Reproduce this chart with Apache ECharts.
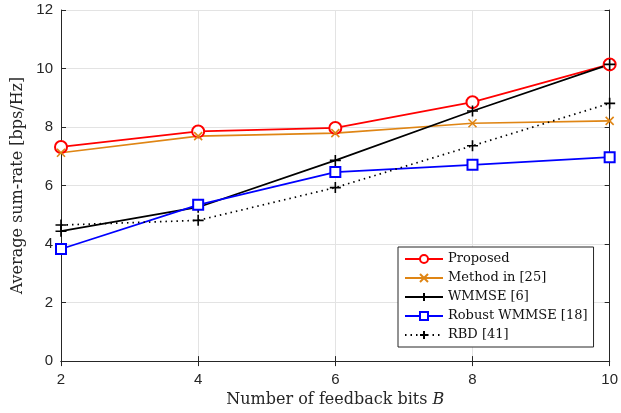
<!DOCTYPE html>
<html>
<head>
<meta charset="utf-8">
<script src="https://cdn.jsdelivr.net/npm/echarts@6/dist/echarts.min.js"></script>
<style>
  html, body { margin: 0; padding: 0; background: #fff; }
  #chart { width: 621px; height: 413px; }
</style>
</head>
<body>
<div id="chart"></div>
<script>
// Feedback bits on the x axis
const feedbackBits = [2, 4, 6, 8, 10];

// Average sum-rate [bps/Hz] per scheme
const proposed    = [7.32, 7.85, 7.97, 8.85, 10.14];
const method25    = [7.12, 7.69, 7.79, 8.13, 8.21];
const wmmse6      = [4.44, 5.26, 6.86, 8.55, 10.14];
const robust18    = [3.83, 5.34, 6.46, 6.71, 6.97];
const rbd41       = [4.65, 4.81, 5.93, 7.36, 8.81];

const seriesNames = ['Proposed', 'Method in [25]', 'WMMSE [6]', 'Robust WMMSE [18]', 'RBD [41]'];
const yTicks = [0, 2, 4, 6, 8, 10, 12];

const PLUS = 'path://M5,0L5,10M0,5L10,5';
const CROSS = 'path://M0,0L10,10M10,0L0,10';

const pair = arr => feedbackBits.map((b, i) => [b, arr[i]]);

function lineSeries(name, data, color, symbol, size, dashed) {
  return {
    name: name,
    type: 'line',
    data: pair(data),
    symbol: symbol,
    symbolSize: size,
    showAllSymbol: true,
    lineStyle: { color: color, width: 1.7, type: dashed ? [1.5, 4] : 'solid' },
    itemStyle: { color: color, borderColor: color, borderWidth: 1.6 },
    emphasis: { disabled: true },
    animation: false,
    z: 3
  };
}

const axisColor = '#262626';
const sansFont = 'Liberation Sans, Arial, sans-serif';
const serifFont = 'DejaVu Serif, Liberation Serif, serif';

const chart = echarts.init(document.getElementById('chart'), null, { renderer: 'canvas' });
chart.setOption({
  animation: false,
  backgroundColor: '#fff',
  grid: { left: 61, right: 9, top: 10, bottom: 50, containLabel: false },
  xAxis: [
    {
      type: 'value', min: 2, max: 10, interval: 2,
      name: '{n|Number of feedback bits }{b|B}',
      nameLocation: 'middle', nameGap: 30,
      nameTextStyle: {
        rich: {
          n: { fontFamily: serifFont, fontSize: 16, color: axisColor },
          b: { fontFamily: serifFont, fontSize: 16, fontStyle: 'italic', color: axisColor }
        }
      },
      axisLine: { lineStyle: { color: axisColor, width: 1 } },
      axisTick: { inside: true, length: 5, lineStyle: { color: axisColor } },
      axisLabel: { fontFamily: sansFont, fontSize: 15, color: axisColor, margin: 11 },
      splitLine: { show: true, lineStyle: { color: '#e3e3e3', width: 1 } }
    },
    {
      type: 'value', min: 2, max: 10, interval: 2, position: 'top',
      axisLine: { lineStyle: { color: axisColor, width: 1 } },
      axisTick: { inside: true, length: 5, lineStyle: { color: axisColor } },
      axisLabel: { show: false },
      splitLine: { show: false }
    }
  ],
  yAxis: [
    {
      type: 'value', min: yTicks[0], max: yTicks[yTicks.length - 1], interval: 2,
      name: 'Average sum-rate [bps/Hz]',
      nameLocation: 'middle', nameGap: 33,
      nameTextStyle: { fontFamily: serifFont, fontSize: 16, color: axisColor },
      axisLine: { lineStyle: { color: axisColor, width: 1 } },
      axisTick: { inside: true, length: 5, lineStyle: { color: axisColor } },
      axisLabel: { fontFamily: sansFont, fontSize: 15, color: axisColor, margin: 8 },
      splitLine: { show: true, lineStyle: { color: '#e3e3e3', width: 1 } }
    },
    {
      type: 'value', min: yTicks[0], max: yTicks[yTicks.length - 1], interval: 2, position: 'right',
      axisLine: { lineStyle: { color: axisColor, width: 1 } },
      axisTick: { inside: true, length: 5, lineStyle: { color: axisColor } },
      axisLabel: { show: false },
      splitLine: { show: false }
    }
  ],
  legend: {
    orient: 'vertical',
    left: 398, top: 247,
    padding: [4, 6, 4, 6],
    itemGap: 3,
    itemWidth: 38,
    itemHeight: 10,
    borderColor: '#262626',
    borderWidth: 1,
    backgroundColor: '#fff',
    data: seriesNames,
    textStyle: { fontFamily: serifFont, fontSize: 13, color: '#111', lineHeight: 16 }
  },
  series: [
    lineSeries(seriesNames[0], proposed, '#ff0000', 'emptyCircle', 12, false),
    lineSeries(seriesNames[1], method25, '#df8514', CROSS, 8, false),
    lineSeries(seriesNames[2], wmmse6, '#000000', PLUS, 11, false),
    lineSeries(seriesNames[3], robust18, '#0000ff', 'emptyRect', 10, false),
    lineSeries(seriesNames[4], rbd41, '#000000', PLUS, 11, true)
  ]
});
</script>
</body>
</html>
